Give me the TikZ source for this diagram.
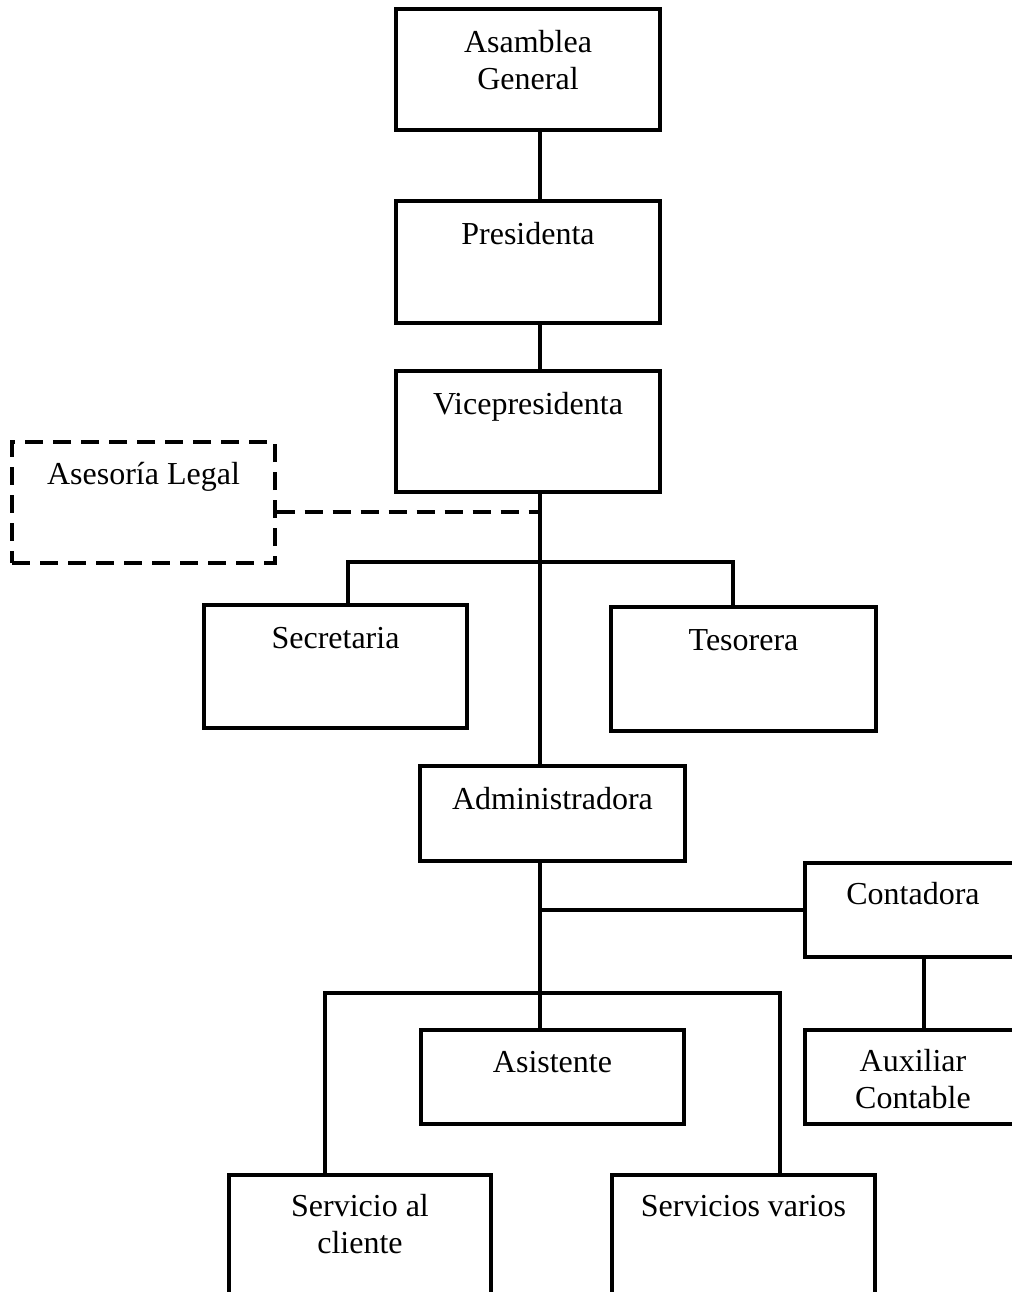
\documentclass[tikz,border=0pt]{standalone}
\usepackage{fontspec}
\setmainfont{Liberation Serif}
\usetikzlibrary{calc}
\begin{document}
\begin{tikzpicture}[x=0.5pt,y=-0.5pt,
  box/.style={draw, line width=1.7pt, inner sep=0pt},
  dbox/.style={box, dash pattern=on 9pt off 5pt},
  lbl/.style={font=\fontsize{16}{18.5}\selectfont, inner sep=0pt, align=center, anchor=base},
  conn/.style={line width=1.7pt},
  dconn/.style={line width=1.7pt, dash pattern=on 9pt off 5pt}]
\useasboundingbox (0,0) rectangle (1012,1292);
% boxes
\node[box, minimum width=132pt, minimum height=60.5pt] (asamblea) at (528,69.5) {};
\node[box, minimum width=132pt, minimum height=61pt] (presidenta) at (528,262) {};
\node[box, minimum width=132pt, minimum height=60.5pt] (vice) at (528,431.5) {};
\node[dbox, minimum width=131.5pt, minimum height=60.5pt] (asesoria) at (143.5,502.5) {};
\node[box, minimum width=131.5pt, minimum height=61.5pt] (secretaria) at (335.5,666.5) {};
\node[box, minimum width=132.5pt, minimum height=62pt] (tesorera) at (743.5,669) {};
\node[box, minimum width=132.5pt, minimum height=47.5pt] (admin) at (552.5,813.5) {};
\node[box, minimum width=108pt, minimum height=47pt] (contadora) at (913,910) {};
\node[box, minimum width=108pt, minimum height=47pt] (auxiliar) at (913,1077) {};
\node[box, minimum width=131.5pt, minimum height=47pt] (asistente) at (552.5,1077) {};
\node[box, minimum width=131pt, minimum height=61pt] (servicio) at (360,1236) {};
\node[box, minimum width=131.5pt, minimum height=61pt] (varios) at (743.5,1236) {};
% labels (multi-line nodes sit on the baseline of their last line)
\node[lbl] (tasamblea) at ($(asamblea.north)+(0,82)$) {Asamblea\\General};
\node[lbl] (tpresidenta) at ($(presidenta.north)+(0,45)$) {Presidenta};
\node[lbl] (tvice) at ($(vice.north)+(0,45)$) {Vicepresidenta};
\node[lbl] (tasesoria) at ($(asesoria.north)+(0,44)$) {Asesoría Legal};
\node[lbl] (tsecretaria) at ($(secretaria.north)+(0,45)$) {Secretaria};
\node[lbl] (ttesorera) at ($(tesorera.north)+(0,45)$) {Tesorera};
\node[lbl] (tadmin) at ($(admin.north)+(0,45)$) {Administradora};
\node[lbl] (tcontadora) at ($(contadora.north)+(0,43)$) {Contadora};
\node[lbl] (tauxiliar) at ($(auxiliar.north)+(0,80)$) {Auxiliar\\Contable};
\node[lbl] (tasistente) at ($(asistente.north)+(0,44)$) {Asistente};
\node[lbl] (tservicio) at ($(servicio.north)+(0,80)$) {Servicio al\\cliente};
\node[lbl] (tvarios) at ($(varios.north)+(0,43)$) {Servicios varios};
% junction coordinates
\coordinate (spine) at (540,0);
\coordinate (dj) at (540,512);
\coordinate (s1) at (348,562);
\coordinate (t1) at (733,562);
\coordinate (c1) at (924,0);
\coordinate (l1) at (325,993);
\coordinate (r1) at (780,993);
% connectors
\draw[conn] (asamblea.south -| spine) -- (presidenta.north -| spine);
\draw[conn] (presidenta.south -| spine) -- (vice.north -| spine);
\draw[conn] (vice.south -| spine) -- (admin.north -| spine);
\draw[dconn] (dj -| asesoria.east) -- (dj);
\draw[conn] (secretaria.north -| s1) -- (s1) -- (t1) -- (tesorera.north -| t1);
\draw[conn] (admin.south -| spine) -- (asistente.north -| spine);
\draw[conn] (contadora.west -| spine) -- (contadora.west);
\draw[conn] (contadora.south -| c1) -- (auxiliar.north -| c1);
\draw[conn] (servicio.north -| l1) -- (l1) -- (r1) -- (varios.north -| r1);
\end{tikzpicture}
\end{document}
